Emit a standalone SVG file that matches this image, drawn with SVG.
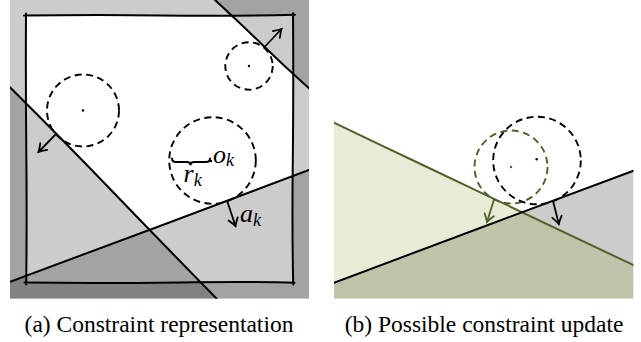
<svg xmlns="http://www.w3.org/2000/svg" width="641" height="342" viewBox="0 0 641 342">
<defs>
<style>
.ln{fill:none;stroke:#000;stroke-width:2;stroke-linecap:round;stroke-linejoin:round}
.gln{fill:none;stroke:#4f6228;stroke-width:2;stroke-linecap:round}
.dc{fill:none;stroke:#000;stroke-width:1.9;stroke-dasharray:7 4.5}
.gdc{fill:none;stroke:#4f6228;stroke-width:1.9;stroke-dasharray:7 4.5}
.sh{fill:#000;fill-opacity:0.2}
.arr{fill:none;stroke:#000;stroke-width:1.8;stroke-linecap:round;marker-end:url(#ah)}
.garr{fill:none;stroke:#4f6228;stroke-width:1.8;stroke-linecap:round;marker-end:url(#gah)}
.dot{fill:#000}
.gdot{fill:#4f6228}
</style>
<clipPath id="ca"><rect x="10" y="0" width="299" height="298.7"/></clipPath>
<clipPath id="cb"><rect x="334" y="0" width="299.5" height="298.7"/></clipPath>
<marker id="ah" viewBox="-9 -6 11 12" markerWidth="11" markerHeight="12" refX="0" refY="0" orient="auto" markerUnits="userSpaceOnUse">
<path d="M-7.5,-4.8 Q-2.5,-1.2 0,0 Q-2.5,1.2 -7.5,4.8" fill="none" stroke="#000" stroke-width="1.8" stroke-linecap="round"/>
</marker>
<marker id="gah" viewBox="-9 -6 11 12" markerWidth="11" markerHeight="12" refX="0" refY="0" orient="auto" markerUnits="userSpaceOnUse">
<path d="M-7.5,-4.8 Q-2.5,-1.2 0,0 Q-2.5,1.2 -7.5,4.8" fill="none" stroke="#4f6228" stroke-width="1.8" stroke-linecap="round"/>
</marker>
</defs>

<g id="panel-a">
<g id="a-shading" clip-path="url(#ca)">
<rect x="10" y="0" width="299" height="298.7" fill="#cccccc"/>
<rect x="26" y="15" width="267" height="268" fill="#ffffff"/>
<polygon class="sh" points="215,0 320,0 320,98.6"/>
<polygon class="sh" points="10,87.3 216.7,298.7 10,298.7"/>
<polygon class="sh" points="10,281.7 309,169.9 309,298.7 10,298.7"/>
</g>
<g id="a-box">
<path class="ln" d="M24,15.6 Q90,14.6 160,15.4 T295,14.8 M26,13.5 Q25.6,80 26.3,150 T26.2,284.5 M24.5,282.6 Q100,283.4 180,282.4 T294.5,282.8 M293,13.2 Q293.6,90 292.8,160 T293.2,284.5"/>
</g>
<g id="a-lines" clip-path="url(#ca)">
<path class="ln" d="M215,0 Q240,23 262,44.5 T309,88.3"/>
<path class="ln" d="M10,87.3 Q60,137 112,191 T216.7,298.7"/>
<path class="ln" d="M10,281.7 Q80,256 160,226 T309,169.9"/>
</g>
<g id="circle-1">
<circle class="dc" cx="83" cy="110.5" r="36"/>
<circle class="dot" cx="83" cy="110.5" r="1.2"/>
<path class="arr" d="M55,135 L38.5,152"/>
</g>
<g id="circle-2">
<circle class="dc" cx="249" cy="66" r="23.7"/>
<circle class="dot" cx="249" cy="66" r="1.2"/>
<path class="arr" d="M265,46.5 L281.5,29"/>
</g>
<g id="circle-k" font-family="Liberation Serif, Times New Roman, serif" font-style="italic" font-size="26" fill="#000">
<circle class="dc" cx="212.5" cy="160.5" r="43.3"/>
<circle class="dot" cx="211" cy="161" r="1.2"/>
<path class="ln" stroke-width="1.8" d="M172,158.5 Q172,162 176,162 L187,162 Q190,162 190.5,164.5 Q191,162 194,162 L206,162 Q210,162 210,158.5"/>
<text x="213" y="163">o<tspan font-size="18" dy="3">k</tspan></text>
<text x="183.5" y="182">r<tspan font-size="18" dy="4">k</tspan></text>
<path class="arr" d="M227.5,202 L235.5,226"/>
<text x="240" y="222">a<tspan font-size="18" dy="3.5">k</tspan></text>
</g>
</g>

<g id="panel-b">
<g id="b-shading" clip-path="url(#cb)">
<polygon fill="#e7ecd6" points="334,122.7 522.2,212.3 334,282.7"/>
<polygon fill="#cccccc" points="522.2,212.3 633.5,170.7 633.5,265.2"/>
<polygon fill="#bec3aa" points="334,282.7 522.2,212.3 633.5,265.2 633.5,298.7 334,298.7"/>
</g>
<g id="b-lines" clip-path="url(#cb)">
<path class="gln" d="M334,122.7 Q380,145 428,167.5 T633.5,265.2"/>
<path class="ln" d="M334,282.7 Q400,258 480,228 T633.5,170.7"/>
</g>
<g id="circle-new">
<circle class="gdc" cx="511" cy="167" r="36.5"/>
<circle class="gdot" cx="511" cy="167" r="1.2"/>
<path class="garr" d="M494,199.5 L487,222"/>
</g>
<g id="circle-old">
<circle class="dc" cx="537" cy="160.5" r="43.8"/>
<circle class="dot" cx="536.7" cy="159.3" r="1.2"/>
<path class="arr" d="M553.3,202 L558.8,224"/>
</g>
</g>

<g id="captions" font-family="Liberation Serif, Times New Roman, serif" font-size="23.5" text-anchor="middle" fill="#000">
<text x="159" y="332">(a) Constraint representation</text>
<text x="484" y="332">(b) Possible constraint update</text>
</g>
</svg>
